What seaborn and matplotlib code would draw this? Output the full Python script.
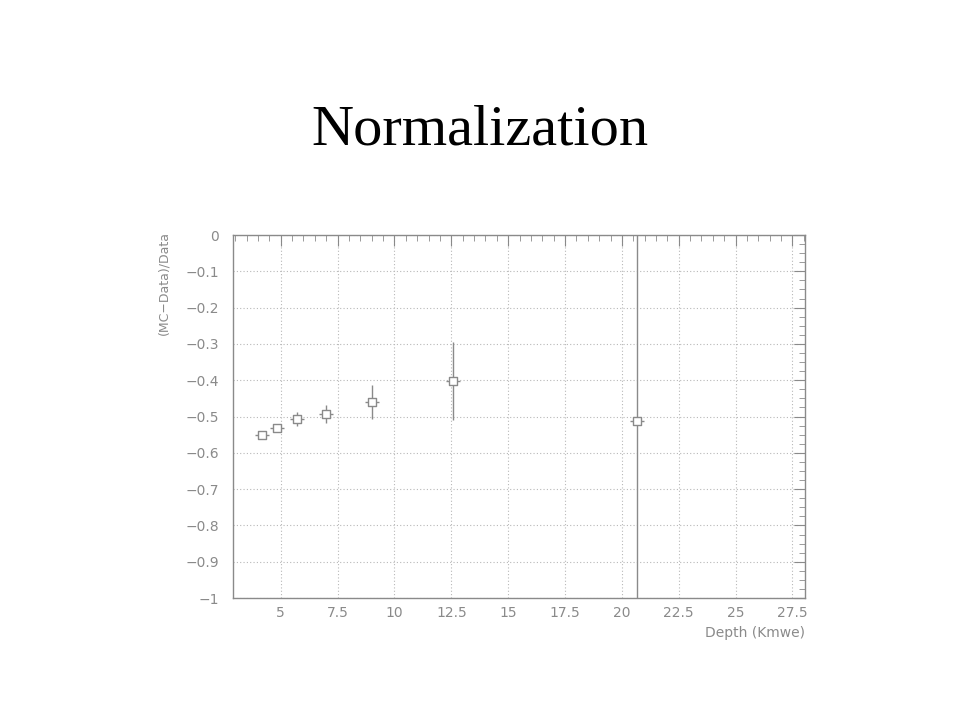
import matplotlib
matplotlib.use("Agg")
import matplotlib.pyplot as plt
import seaborn as sns
import numpy as np
import pandas as pd
from matplotlib.ticker import MultipleLocator, FuncFormatter

# data
depth = [4.18, 4.84, 5.72, 6.99, 9.02, 12.58, 20.66]
ratio = [-0.551, -0.532, -0.507, -0.493, -0.460, -0.402, -0.512]
ratio_err = [0.004, 0.008, 0.020, 0.026, 0.047, 0.107, 1.2]
depth_err = [0.30, 0.30, 0.30, 0.30, 0.30, 0.30, 0.30]
x_ticks = [5, 7.5, 10, 12.5, 15, 17.5, 20, 22.5, 25, 27.5]
y_ticks = [0, -0.1, -0.2, -0.3, -0.4, -0.5, -0.6, -0.7, -0.8, -0.9, -1]

df = pd.DataFrame({"depth": depth, "ratio": ratio})

sns.set_style("white")
plt.rcParams["font.family"] = ["DejaVu Sans"]

GRAY = "#8a8a8a"
fig = plt.figure(figsize=(9.6, 7.2), dpi=100)
ax = fig.add_axes([0.2427, 0.1694, 0.5958, 0.5042])

ax.errorbar(depth, ratio, yerr=ratio_err, xerr=depth_err, fmt="none",
            ecolor=GRAY, elinewidth=1.0, capsize=0, zorder=3)
sns.scatterplot(data=df, x="depth", y="ratio", ax=ax, marker="s", s=26,
                facecolor="white", edgecolor=GRAY, linewidth=1.0, zorder=4)

ax.set_xlim(2.9, 28.05)
ax.set_ylim(-1, 0)
ax.set_xticks(x_ticks)
ax.set_yticks(y_ticks)
ax.xaxis.set_minor_locator(MultipleLocator(0.5))
ax.yaxis.set_minor_locator(MultipleLocator(0.025))

def fmt(v, pos):
    s = f"{v:g}"
    if s.startswith("-"):
        s = "\u2212" + s[1:]
    return s
ax.xaxis.set_major_formatter(FuncFormatter(fmt))
ax.yaxis.set_major_formatter(FuncFormatter(fmt))

ax.tick_params(which="both", direction="in", colors=GRAY, labelcolor=GRAY,
               top=True, right=True, labelsize=10)
ax.tick_params(which="major", length=8, width=0.8)
ax.tick_params(which="minor", length=4, width=0.6)
ax.tick_params(axis="y", pad=10)
ax.tick_params(axis="x", pad=6)

ax.grid(True, which="major", linestyle=(0, (1, 2)), color="#b8b8b8", linewidth=0.8)
for sp in ax.spines.values():
    sp.set_color(GRAY)
    sp.set_linewidth(1.0)

ax.set_xlabel("Depth (Kmwe)", color=GRAY, fontsize=10, loc="right")
ax.set_ylabel("(MC\u2212Data)/Data", color=GRAY, fontsize=9, loc="top")
ax.yaxis.set_label_coords(-0.11, 1.01)

fig.text(0.5, 0.819, "Normalization", ha="center", va="center",
         fontsize=42, family="Liberation Serif", color="black")

fig.savefig("out.png", dpi=100, facecolor="white")
